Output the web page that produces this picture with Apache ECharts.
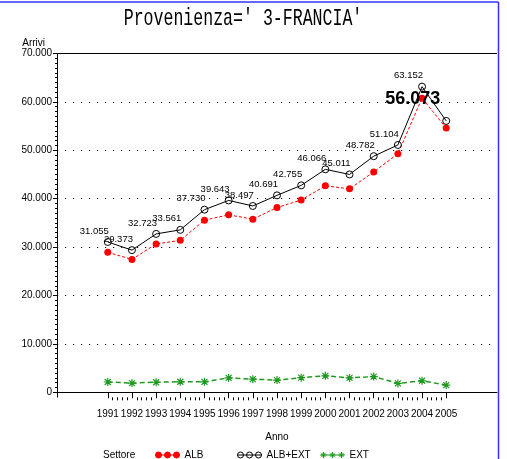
<!DOCTYPE html>
<html>
<head>
<meta charset="utf-8">
<script src="https://cdn.jsdelivr.net/npm/echarts@6/dist/echarts.min.js"></script>
<style>html,body{margin:0;padding:0;background:#fff;}#c{width:507px;height:459px;}</style>
</head>
<body>
<div id="c"></div>
<script>
var years = [1991,1992,1993,1994,1995,1996,1997,1998,1999,2000,2001,2002,2003,2004,2005];
var albExt = [31055,29373,32723,33561,37730,39643,38497,40691,42755,46066,45011,48782,51104,63152,56073];
var alb = [28925,27463,30643,31391,35570,36663,35777,38171,39725,42666,42031,45532,49274,60772,54583];
var ext = [2130,1910,2080,2170,2160,2980,2720,2520,3030,3400,2980,3250,1830,2380,1490];
var yTicks = [0,10000,20000,30000,40000,50000,60000,70000];
var titleText = "Provenienza=' 3-FRANCIA'";

var SANS = "'Liberation Sans Narrow','Liberation Sans',Arial,sans-serif";
function fmt(v){ return String(v).replace(/\B(?=(\d{3})+(?!\d))/g,'.'); }
function pairs(arr){ return years.map(function(y,i){ return [y, arr[i]]; }); }

var minorX = [];
for (var i = 0; i < years.length - 1; i++) {
  for (var k = 1; k < 5; k++) minorX.push(years[i] + k / 5);
}

var totalData = years.map(function(y,i){
  var d = {value:[y, albExt[i]]};
  if (i === years.length - 1) {
    d.label = {fontSize:18, fontWeight:'bold', offset:[-6,-7], color:'#000'};
  }
  return d;
});

var star = 'path://M0,-4L0,4M-4,0L4,0M-3,-3L3,3M-3,3L3,-3';
function circ(c){ return 'M'+(c-3)+',3A3,3 0 1,0 '+(c+3)+',3A3,3 0 1,0 '+(c-3)+',3Z'; }
function ast(c){ return 'M'+(c-3)+',3L'+(c+3)+',3M'+c+',0L'+c+',6M'+(c-2.2)+',0.8L'+(c+2.2)+',5.2M'+(c-2.2)+',5.2L'+(c+2.2)+',0.8'; }
var iconCircles = 'path://M0,3L24,3' + circ(3) + circ(12) + circ(21);
var iconGreen = 'path://M0,3L24,3' + ast(3) + ast(12) + ast(21);

var chart = echarts.init(document.getElementById('c'), null, {renderer:'canvas'});
chart.setOption({
  animation:false,
  backgroundColor:'#fff',
  grid:{left:57, right:10, top:53.5, bottom:66.7, containLabel:false},
  xAxis:[{
    type:'value', min:1988.9, max:2007.1, offset:5,
    name:'Anno', nameLocation:'middle', nameGap:35,
    nameTextStyle:{fontFamily:SANS, fontSize:10, color:'#000'},
    axisLine:{show:true, lineStyle:{color:'#000', width:1}},
    axisTick:{show:true, length:6, customValues:years, lineStyle:{color:'#000'}},
    axisLabel:{show:true, customValues:years, margin:12, showMinLabel:true, showMaxLabel:true, hideOverlap:false,
      fontFamily:SANS, fontSize:10, color:'#000', formatter:function(v){return String(v);}},
    splitLine:{show:false}
  },{
    type:'value', min:1988.9, max:2007.1, offset:5, position:'bottom',
    axisLine:{show:false},
    axisTick:{show:true, length:3, customValues:minorX, lineStyle:{color:'#000'}},
    axisLabel:{show:false},
    splitLine:{show:false}
  }],
  yAxis:{
    type:'value', min:0, max:70000, interval:10000,
    name:'Arrivi', nameLocation:'end', nameGap:2,
    nameTextStyle:{fontFamily:SANS, fontSize:10, color:'#000', align:'right', verticalAlign:'bottom', padding:[0,12,0,0]},
    axisLine:{show:true, lineStyle:{color:'#000', width:1}},
    axisTick:{show:true, length:4, lineStyle:{color:'#000'}},
    minorTick:{show:true, splitNumber:10, length:2, lineStyle:{color:'#000'}},
    axisLabel:{margin:5, fontFamily:SANS, fontSize:10, color:'#000', formatter:function(v){return fmt(v);}},
    splitLine:{show:true, lineStyle:{color:'#000', type:[1.2,6.8], width:1}}
  },
  legend:[
    {data:[{name:'ALB', icon:iconCircles, itemStyle:{color:'#ff0000', borderColor:'#ff0000', borderWidth:1}}],
      left:155, top:450, itemWidth:24, itemHeight:6, padding:0,
      textStyle:{fontFamily:SANS, fontSize:10, color:'#000'}},
    {data:[{name:'ALB+EXT', icon:iconCircles, itemStyle:{color:'rgba(0,0,0,0)', borderColor:'#000', borderWidth:1}}],
      left:237, top:450, itemWidth:24, itemHeight:6, padding:0,
      textStyle:{fontFamily:SANS, fontSize:10, color:'#000'}},
    {data:[{name:'EXT', icon:iconGreen, itemStyle:{color:'rgba(0,0,0,0)', borderColor:'#1e9b1e', borderWidth:1}}],
      left:320, top:450, itemWidth:24, itemHeight:6, padding:0,
      textStyle:{fontFamily:SANS, fontSize:10, color:'#000'}}
  ],
  series:[
    {name:'ALB', type:'line', data:pairs(alb), symbol:'circle', symbolSize:7,
      itemStyle:{color:'#ff0000'}, lineStyle:{color:'#ff0000', width:1, type:[3,2]}, z:3},
    {name:'ALB+EXT', type:'line', data:totalData, symbol:'circle', symbolSize:7,
      itemStyle:{color:'rgba(0,0,0,0)', borderColor:'#000', borderWidth:1},
      lineStyle:{color:'#000', width:1, type:'solid'},
      label:{show:true, position:'top', distance:2, align:'right', offset:[1,0],
        fontFamily:"'Liberation Sans',Arial,sans-serif", fontSize:9.5, color:'#000',
        formatter:function(p){return fmt(p.value[1]);}}, z:4},
    {name:'EXT', type:'line', data:pairs(ext), symbol:star, symbolSize:8,
      itemStyle:{color:'rgba(0,0,0,0)', borderColor:'#1e9b1e', borderWidth:1.2},
      lineStyle:{color:'#1e9b1e', width:1.5, type:[5,3]}, z:3}
  ],
  graphic:[
    {type:'text', x:243, y:18.5, scaleX:0.69, style:{text:titleText, fontFamily:"'Liberation Mono','DejaVu Sans Mono',monospace", fontSize:24, fill:'#000', align:'center', verticalAlign:'middle'}},
    {type:'text', x:103, y:455.5, style:{text:'Settore', fontFamily:SANS, fontSize:10, fill:'#000', align:'left', verticalAlign:'middle'}},
    {type:'line', shape:{x1:57.5, y1:53.5, x2:497, y2:53.5}, style:{stroke:'#000', lineWidth:1}},
    {type:'line', shape:{x1:57.5, y1:392, x2:57.5, y2:397.5}, style:{stroke:'#000', lineWidth:1}},
    {type:'line', shape:{x1:0, y1:2, x2:498.5, y2:2}, style:{stroke:'#3333ff', lineWidth:1.5}},
    {type:'line', shape:{x1:498.5, y1:2, x2:498.5, y2:459}, style:{stroke:'#3333ff', lineWidth:1.5}}
  ]
});
</script>
</body>
</html>
